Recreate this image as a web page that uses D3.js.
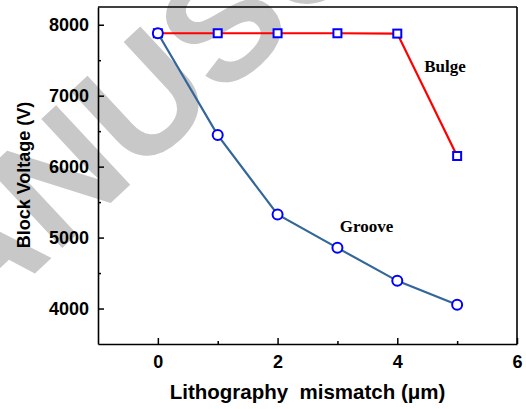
<!DOCTYPE html>
<html>
<head>
<meta charset="utf-8">
<script src="https://cdn.jsdelivr.net/npm/d3@7"></script>
<style>
  body { margin: 0; background: #fff; }
  svg { display: block; }
</style>
</head>
<body>
<div id="chart"></div>
<script>
// mismatch values (um) and block voltages (V)
var mismatch = [0, 1, 2, 3, 4, 5];
var bulgeVoltage = [7880, 7880, 7880, 7880, 7875, 6150];
var grooveVoltage = [7880, 6445, 5325, 4855, 4390, 4052];
var xTicks = [0, 2, 4, 6];
var yTicks = [4000, 5000, 6000, 7000, 8000];

var margin = {top: 7, right: 9, bottom: 65, left: 98},
  W = 526, H = 409,
  width = W - margin.left - margin.right,
  height = H - margin.top - margin.bottom;

var svg = d3.select("#chart").append("svg")
  .attr("width", W)
  .attr("height", H);

// watermark behind everything
svg.append("text")
  .attr("transform", "translate(-29,333) rotate(-43)")
  .attr("font-family", "Liberation Sans, Arial, sans-serif")
  .attr("font-weight", "bold")
  .attr("font-size", 158)
  .attr("fill", "#c8c8c8")
  .text("ANUSC");

var g = svg.append("g")
  .attr("transform", "translate(" + margin.left + "," + margin.top + ")");

var x = d3.scaleLinear().domain([-1, 6]).range([0, width]);
var y = d3.scaleLinear().domain([3500, 8250]).range([height, 0]);

// minor ticks
g.append("g")
  .attr("transform", "translate(0," + height + ")")
  .call(d3.axisBottom(x).tickValues([1, 3, 5]).tickSize(-3).tickFormat(""))
  .call(function(a) { a.select(".domain").remove(); });
g.append("g")
  .call(d3.axisLeft(y).tickValues([4500, 5500, 6500, 7500]).tickSize(-3).tickFormat(""))
  .call(function(a) { a.select(".domain").remove(); });

// major axes
g.append("g")
  .attr("transform", "translate(0," + height + ")")
  .call(d3.axisBottom(x).tickValues(xTicks).tickFormat(d3.format("d"))
    .tickSize(-6).tickPadding(11).tickSizeOuter(0));
g.append("g")
  .call(d3.axisLeft(y).tickValues(yTicks).tickFormat(d3.format("d"))
    .tickSize(-6).tickPadding(9).tickSizeOuter(0));

g.selectAll(".tick line").attr("stroke", "#000").attr("stroke-width", 1.5);
g.selectAll(".domain").attr("stroke", "#000").attr("stroke-width", 1.6);
g.selectAll(".tick text")
  .attr("font-family", "Liberation Sans, Arial, sans-serif")
  .attr("font-weight", "bold")
  .attr("font-size", 18)
  .attr("fill", "#000");

// top and right frame
g.append("line").attr("x1", 0).attr("x2", width).attr("y1", 0).attr("y2", 0)
  .attr("stroke", "#000").attr("stroke-width", 1.6);
g.append("line").attr("x1", width).attr("x2", width).attr("y1", 0).attr("y2", height)
  .attr("stroke", "#000").attr("stroke-width", 1.6);

var line = d3.line()
  .x(function(d) { return x(d[0]); })
  .y(function(d) { return y(d[1]); });

var bulge = mismatch.map(function(m, i) { return [m, bulgeVoltage[i]]; });
var groove = mismatch.map(function(m, i) { return [m, grooveVoltage[i]]; });

// bulge series
g.append("path").datum(bulge)
  .attr("d", line)
  .attr("fill", "none")
  .attr("stroke", "#ff0000")
  .attr("stroke-width", 2.2);
g.selectAll(".sq").data(bulge).enter().append("rect")
  .attr("x", function(d) { return x(d[0]) - 4; })
  .attr("y", function(d) { return y(d[1]) - 4; })
  .attr("width", 8).attr("height", 8)
  .attr("fill", "#fff")
  .attr("stroke", "#0000ff")
  .attr("stroke-width", 2);

// groove series
g.append("path").datum(groove)
  .attr("d", line)
  .attr("fill", "none")
  .attr("stroke", "#33669a")
  .attr("stroke-width", 2.2);
g.selectAll(".ci").data(groove).enter().append("circle")
  .attr("cx", function(d) { return x(d[0]); })
  .attr("cy", function(d) { return y(d[1]); })
  .attr("r", 5)
  .attr("fill", "#fff")
  .attr("stroke", "#0000ff")
  .attr("stroke-width", 2);

// series labels
g.append("text")
  .attr("x", x(4.45)).attr("y", y(7330))
  .attr("font-family", "Liberation Serif, Times New Roman, serif")
  .attr("font-weight", "bold").attr("font-size", 17)
  .text("Bulge");
g.append("text")
  .attr("x", x(3.04)).attr("y", y(5076))
  .attr("font-family", "Liberation Serif, Times New Roman, serif")
  .attr("font-weight", "bold").attr("font-size", 17)
  .text("Groove");

// axis titles
svg.append("text")
  .attr("x", margin.left + width / 2).attr("y", 399)
  .attr("text-anchor", "middle")
  .attr("font-family", "Liberation Sans, Arial, sans-serif")
  .attr("font-weight", "bold").attr("font-size", 20.5)
  .attr("xml:space", "preserve")
  .text("Lithography  mismatch (\u03bcm)");
svg.append("text")
  .attr("transform", "translate(30,175) rotate(-90)")
  .attr("text-anchor", "middle")
  .attr("font-family", "Liberation Sans, Arial, sans-serif")
  .attr("font-weight", "bold").attr("font-size", 18)
  .text("Block Voltage (V)");
</script>
</body>
</html>
